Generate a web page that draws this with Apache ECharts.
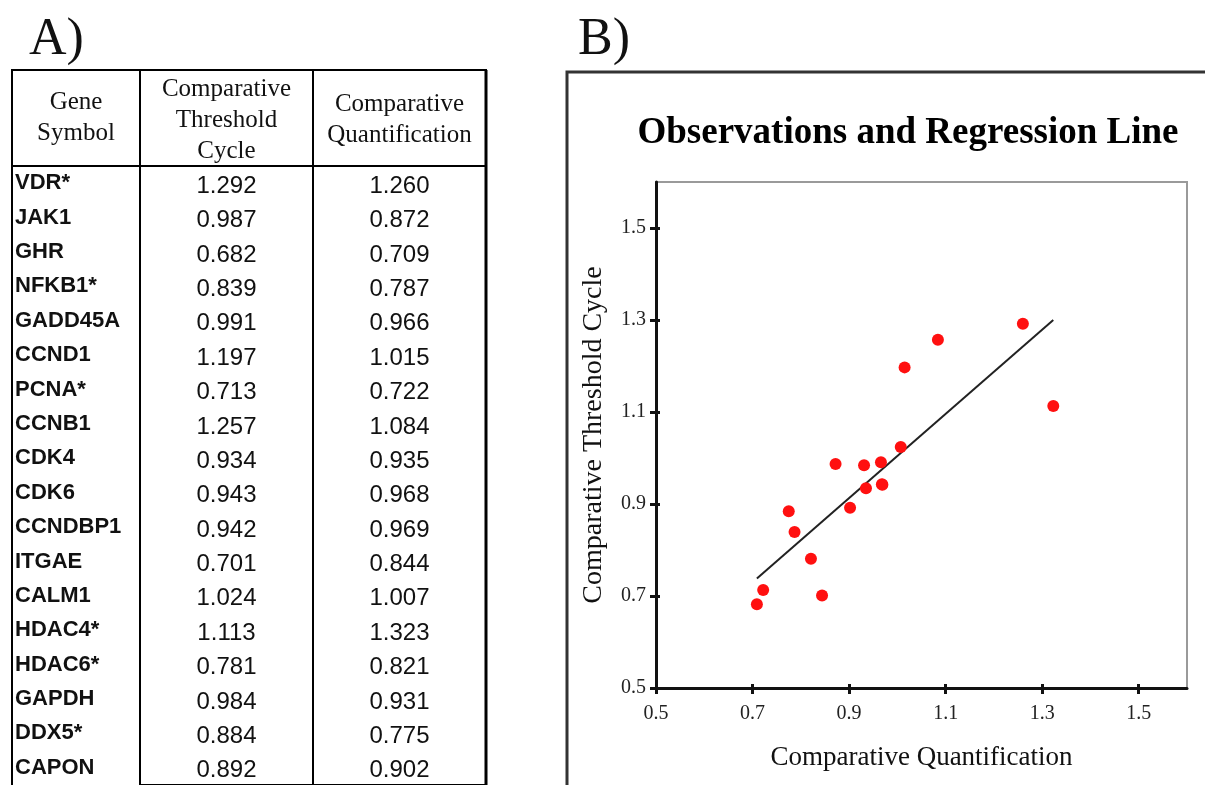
<!DOCTYPE html>
<html><head><meta charset="utf-8">
<script src="https://cdn.jsdelivr.net/npm/echarts@6/dist/echarts.min.js"></script>
<style>html,body{margin:0;padding:0;background:#fff}#c{width:1205px;height:785px}</style>
</head><body><div id="c"></div>
<script>
// ---- data ----
const genes = ['VDR*','JAK1','GHR','NFKB1*','GADD45A','CCND1','PCNA*','CCNB1','CDK4','CDK6','CCNDBP1','ITGAE','CALM1','HDAC4*','HDAC6*','GAPDH','DDX5*','CAPON'];
const thresholdCycle = [1.292,0.987,0.682,0.839,0.991,1.197,0.713,1.257,0.934,0.943,0.942,0.701,1.024,1.113,0.781,0.984,0.884,0.892];
const quantification = [1.260,0.872,0.709,0.787,0.966,1.015,0.722,1.084,0.935,0.968,0.969,0.844,1.007,1.323,0.821,0.931,0.775,0.902];
const geneHeader = 'Gene\nSymbol';
const valueHeaders = ['Comparative\nThreshold\nCycle', 'Comparative\nQuantification'];
const regressionLine = [[0.709, 0.738], [1.323, 1.300]];
const tickValues = [0.5, 0.7, 0.9, 1.1, 1.3, 1.5];
const chartTitle = 'Observations and Regression Line';
const xName = 'Comparative Quantification';
const yName = 'Comparative Threshold Cycle';
const panelLabels = ['A)', 'B)'];

// ---- build ----
const SERIF = 'Liberation Serif, Times New Roman, serif';
const SANS = 'Liberation Sans, Arial, sans-serif';
const tableCells = [];
genes.forEach((g, i) => {
  tableCells.push([0, i, thresholdCycle[i]]);
  tableCells.push([1, i, quantification[i]]);
});
const points = quantification.map((q, i) => [q, thresholdCycle[i]]);

const innerTickAxis = (gridIndex, pos) => ({
  gridIndex, type: 'value', min: 0.5, max: 1.6, position: pos,
  axisLine: {show: false},
  axisTick: {show: true, inside: true, length: 4, customValues: tickValues, lineStyle: {color: '#111', width: 3}},
  axisLabel: {show: false}, splitLine: {show: false}
});

const chart = echarts.init(document.getElementById('c'), null, {renderer: 'canvas'});
chart.setOption({
  animation: false,
  backgroundColor: '#fff',
  title: {
    text: chartTitle,
    left: 903, top: 110, textAlign: 'center',
    textStyle: {fontFamily: SERIF, fontWeight: 'bold', fontSize: 37, color: '#000'}
  },
  grid: [
    {left: 140, top: 166, width: 346, height: 621, show: true, borderColor: '#000', borderWidth: 2, containLabel: false},
    {left: 656, top: 182, right: 18, bottom: 97, show: true, borderColor: '#9a9a9a', borderWidth: 2, containLabel: false}
  ],
  xAxis: [
    {
      gridIndex: 0, type: 'category', position: 'top', data: valueHeaders,
      axisLine: {show: true, lineStyle: {color: '#000', width: 2}},
      axisTick: {show: true, length: 96, alignWithLabel: false, lineStyle: {color: '#000', width: 2}},
      axisLabel: {fontFamily: SERIF, fontSize: 25, lineHeight: 31, color: '#111', margin: 46, verticalAlign: 'middle', interval: 0},
      splitLine: {show: true, lineStyle: {color: '#000', width: 2}}
    },
    {
      gridIndex: 1, type: 'value', min: 0.5, max: 1.6,
      name: xName, nameLocation: 'middle', nameGap: 56,
      nameTextStyle: {fontFamily: SERIF, fontSize: 27, color: '#111'},
      axisLine: {show: true, onZero: false, lineStyle: {color: '#111', width: 3}},
      axisTick: {show: true, length: 6, customValues: tickValues, lineStyle: {color: '#111', width: 3}},
      axisLabel: {customValues: tickValues, formatter: v => Number(v).toFixed(1), fontFamily: SERIF, fontSize: 20, color: '#222', margin: 16},
      splitLine: {show: false}
    },
    innerTickAxis(1, 'bottom')
  ],
  yAxis: [
    {
      gridIndex: 0, type: 'category', inverse: true, data: genes,
      axisLine: {show: false}, axisTick: {show: false},
      axisLabel: {align: 'left', margin: 125, padding: [3, 0, 0, 0], fontFamily: SANS, fontWeight: 'bold', fontSize: 22, color: '#111', interval: 0},
      splitLine: {show: false}
    },
    {
      gridIndex: 1, type: 'value', min: 0.5, max: 1.6,
      name: yName, nameLocation: 'middle', nameGap: 48, nameRotate: 90,
      nameTextStyle: {fontFamily: SERIF, fontSize: 28, color: '#111'},
      axisLine: {show: true, onZero: false, lineStyle: {color: '#111', width: 3}},
      axisTick: {show: true, length: 6, customValues: tickValues, lineStyle: {color: '#111', width: 3}},
      axisLabel: {customValues: tickValues, formatter: v => Number(v).toFixed(1), fontFamily: SERIF, fontSize: 20, color: '#222', margin: 10},
      splitLine: {show: false}
    },
    innerTickAxis(1, 'left')
  ],
  series: [
    {
      type: 'scatter', xAxisIndex: 0, yAxisIndex: 0, data: tableCells, symbolSize: 0,
      encode: {x: 0, y: 1},
      itemStyle: {opacity: 1},
      label: {show: true, position: 'inside', offset: [0, 3], formatter: p => p.value[2].toFixed(3),
        fontFamily: SANS, fontSize: 24, color: '#111', opacity: 1},
      silent: true
    },
    {
      type: 'line', xAxisIndex: 1, yAxisIndex: 1, data: regressionLine, symbol: 'none',
      lineStyle: {color: '#222', width: 2}, z: 2
    },
    {
      type: 'scatter', xAxisIndex: 1, yAxisIndex: 1, data: points, symbol: 'circle', symbolSize: 12,
      itemStyle: {color: '#ff1010', opacity: 1}, z: 3
    }
  ],
  graphic: [
    {type: 'rect', shape: {x: 12, y: 70, width: 474, height: 740}, style: {fill: 'none', stroke: '#000', lineWidth: 2}, z: 10},
    {type: 'line', shape: {x1: 486, y1: 70, x2: 486, y2: 800}, style: {stroke: '#000', lineWidth: 3}, z: 10},
    {type: 'line', shape: {x1: 12, y1: 166, x2: 486, y2: 166}, style: {stroke: '#000', lineWidth: 2}, z: 10},
    {type: 'text', x: 76, y: 118, style: {text: geneHeader, font: '25px ' + SERIF, fill: '#111', align: 'center', verticalAlign: 'middle', lineHeight: 31}, z: 10},
    {type: 'rect', shape: {x: 567, y: 72, width: 700, height: 760}, style: {fill: 'none', stroke: '#333', lineWidth: 3}, z: 10},
    {type: 'text', x: 29, y: 40, style: {text: panelLabels[0], font: '52px ' + SERIF, fill: '#111', verticalAlign: 'middle'}, z: 10},
    {type: 'text', x: 578, y: 40, style: {text: panelLabels[1], font: '52px ' + SERIF, fill: '#111', verticalAlign: 'middle'}, z: 10}
  ]
});
</script>
</body></html>
